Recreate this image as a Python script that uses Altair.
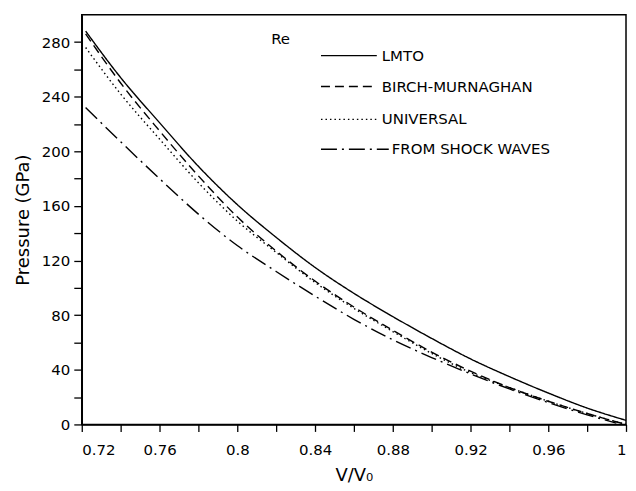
import altair as alt
import pandas as pd

# ---- data ----
v_lmto = [0.722, 0.74, 0.76, 0.78, 0.80, 0.82, 0.84, 0.86, 0.88, 0.90, 0.92, 0.94, 0.96, 0.98, 1.00]
p_lmto = [288, 254, 221, 189, 161, 137, 115, 96, 79, 63, 48, 35, 23, 12, 3]

v_birch = [0.722, 0.74, 0.76, 0.78, 0.80, 0.82, 0.84, 0.86, 0.88, 0.90, 0.92, 0.94, 0.96, 0.98, 1.00]
p_birch = [286, 250, 215, 182, 152, 127, 105, 86, 69, 53, 39, 27, 17, 8, 0]

v_univ = [0.722, 0.74, 0.76, 0.78, 0.80, 0.82, 0.84, 0.86, 0.88, 0.90, 0.92, 0.94, 0.96, 0.98, 1.00]
p_univ = [276, 242, 209, 177, 149, 126, 104, 85, 68, 52, 38, 27, 17, 8, 0]

v_shock = [0.722, 0.74, 0.76, 0.78, 0.80, 0.82, 0.84, 0.86, 0.88, 0.90, 0.92, 0.94, 0.96, 0.98, 0.995]
p_shock = [232, 207, 180, 154, 131, 112, 94, 77, 62, 49, 37, 26, 16, 7, 1]

series_names = ["LMTO", "BIRCH-MURNAGHAN", "UNIVERSAL", "FROM SHOCK WAVES"]
dashes = [[1, 0], [9, 5], [1.5, 3], [16, 5, 2, 5]]

x_ticks = [round(0.72 + 0.02 * i, 2) for i in range(15)]
y_ticks = list(range(0, 300, 20))

rows = []
for name, vs, ps in zip(series_names,
                        [v_lmto, v_birch, v_univ, v_shock],
                        [p_lmto, p_birch, p_univ, p_shock]):
    for v, p in zip(vs, ps):
        rows.append({"series": name, "V": v, "P": p})
df = pd.DataFrame(rows)

FONT = "DejaVu Sans"

lines = alt.Chart(df).mark_line(color="black", strokeWidth=1.4, interpolate="monotone").encode(
    x=alt.X("V:Q", scale=alt.Scale(domain=[0.72, 1.0], nice=False, zero=False),
            axis=alt.Axis(values=x_ticks, title="V/V₀",
                          labelExpr="round(datum.value*100) % 4 == 0 ? format(datum.value, '.2~f') : ''",
                          tickSize=7, labelPadding=11, titlePadding=9)),
    y=alt.Y("P:Q", scale=alt.Scale(domain=[0, 300], nice=False),
            axis=alt.Axis(values=y_ticks, title="Pressure (GPa)",
                          labelExpr="datum.value % 40 == 0 ? datum.label : ''",
                          tickSize=8, labelPadding=4, titlePadding=9)),
    strokeDash=alt.StrokeDash("series:N", scale=alt.Scale(domain=series_names, range=dashes), legend=None),
    detail="series:N",
)

one = alt.Data(values=[{}])
layers = [lines]

# legend (manual, inside the plot)
leg_y = [41, 72, 105, 135]
leg_x2 = [296, 296, 296, 308]
leg_tx = [301, 301, 301, 311]
for name, d, y, x2, tx in zip(series_names, dashes, leg_y, leg_x2, leg_tx):
    layers.append(alt.Chart(one).mark_rule(color="black", strokeWidth=1.4, strokeDash=d).encode(
        x=alt.value(240), x2=alt.value(x2), y=alt.value(y)))
    layers.append(alt.Chart(one).mark_text(text=name, align="left", baseline="middle",
                                           font=FONT, fontSize=15, color="black").encode(
        x=alt.value(tx), y=alt.value(y)))

layers.append(alt.Chart(one).mark_text(text="Re", align="left", baseline="middle",
                                       font=FONT, fontSize=15, color="black").encode(
    x=alt.value(190), y=alt.value(24)))

chart = alt.layer(*layers).properties(
    width=546, height=411,
    background="white",
    autosize=alt.AutoSizeParams(type="none"),
    padding={"left": 74, "top": 6, "right": 2, "bottom": 62},
).configure_view(
    stroke="black", strokeWidth=1.5
).configure_axis(
    grid=False, domainColor="black", domainWidth=1.5, tickColor="black", tickWidth=1.3,
    labelFont=FONT, labelFontSize=15, labelColor="black",
    titleFont=FONT, titleFontSize=18, titleFontWeight="normal", titleColor="black",
)

chart.save("out.html", embed_options={"renderer": "svg", "actions": False})
